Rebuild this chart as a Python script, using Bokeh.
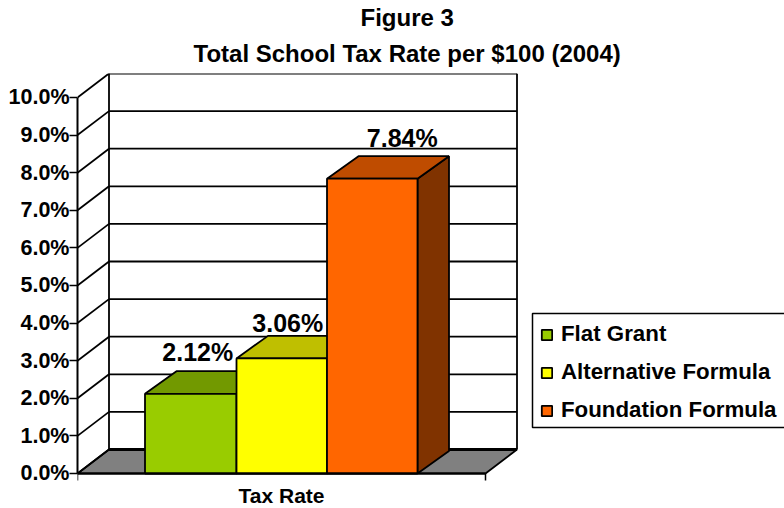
from bokeh.embed import file_html
from bokeh.resources import INLINE
from bokeh.plotting import figure
from bokeh.models import Range1d, LinearAxis, FixedTicker, Legend, LegendItem, Title
from bokeh.core.properties import value

# ---- data ----
categories = ["Flat Grant", "Alternative Formula", "Foundation Formula"]
rates = [2.12, 3.06, 7.84]
rate_labels = ["2.12%", "3.06%", "7.84%"]
y_ticks = [0, 1, 2, 3, 4, 5, 6, 7, 8, 9, 10]
y_tick_labels = ["0.0%", "1.0%", "2.0%", "3.0%", "4.0%", "5.0%", "6.0%", "7.0%", "8.0%", "9.0%", "10.0%"]
x_label = "Tax Rate"
title_line1 = "Figure 3"
title_line2 = "Total School Tax Rate per $100 (2004)"

# ---- style and layout ----
FONT = "Liberation Sans"
front_colors = ["#99CC00", "#FFFF00", "#FF6600"]
top_colors = ["#729900", "#BFBF00", "#BF4C00"]
side_colors = ["#567300", "#808000", "#803300"]
X0, X1 = 77, 485          # front floor edge
DX, DY = 31.5, 0.638      # oblique depth of the walls
BAR_DY = 0.6              # oblique depth of the bars
UNIT = 37.6               # pixels per percentage point
bar_edges = [144.5, 236, 326.5, 417]
label_dx = [7, 6, 30]
label_dy = [1.12, 0.95, 1.07]

p = figure(width=784, height=508, output_backend="svg", toolbar_location=None,
           x_range=Range1d(X0, 784), y_range=Range1d(-35 / UNIT, 10.638),
           x_axis_type=None, y_axis_type=None, tools="",
           min_border_left=77, min_border_right=0, min_border_top=73, min_border_bottom=0)
p.grid.visible = False
p.outline_line_color = None
p.background_fill_color = "white"

def title_style(t, off, standoff):
    t.text_font = FONT
    t.text_font_size = "24px"
    t.text_font_style = "bold"
    t.align = "left"
    t.offset = off
    t.text_color = "black"
    t.standoff = standoff

p.title.text = title_line1
title_style(p.title, 283, 0)
t2 = Title(text=title_line2)
title_style(t2, 116, 14)
p.add_layout(t2, "above")

# side wall, back wall and floor
LW = 1.8
p.patch([X0 + DX, X1 + DX, X1, X0], [DY, DY, 0, 0], fill_color="#808080", line_color="black", line_width=LW)
p.segment([X0 + DX], [DY], [X1 + DX], [DY], line_color="black", line_width=3)
back = [v + DY for v in y_ticks]
p.segment([X0] * len(y_ticks), y_ticks, [X0 + DX] * len(y_ticks), back, line_color="black", line_width=LW)
p.segment([X0 + DX] * len(y_ticks), back, [X1 + DX] * len(y_ticks), back, line_color="black", line_width=LW)
p.segment([X0 + DX, X1 + DX], [DY, DY], [X0 + DX, X1 + DX], [10 + DY, 10 + DY], line_color="black", line_width=LW)

# bars
items = []
for i, (name, v) in enumerate(zip(categories, rates)):
    l, r = bar_edges[i], bar_edges[i + 1]
    p.patch([r, r + DX, r + DX, r], [0, BAR_DY, v + BAR_DY, v], fill_color=side_colors[i], line_color="black", line_width=LW)
    p.patch([l, r, r + DX, l + DX], [v, v, v + BAR_DY, v + BAR_DY], fill_color=top_colors[i], line_color="black", line_width=LW)
    q = p.quad(left=[l], right=[r], bottom=[0], top=[v], fill_color=front_colors[i], line_color="black", line_width=LW)
    items.append(LegendItem(label=name, renderers=[q]))

for i, v in enumerate(rates):
    p.text([(bar_edges[i] + bar_edges[i + 1]) / 2 + label_dx[i]], [v + label_dy[i]], text=[rate_labels[i]],
           text_font=value(FONT), text_font_size="25px", text_font_style="bold",
           text_align="center", text_baseline="middle", text_color="black")

# axes
ya = LinearAxis(ticker=FixedTicker(ticks=y_ticks), bounds=(0, 10))
ya.major_label_overrides = {t: s for t, s in zip(y_ticks, y_tick_labels)}
xa = LinearAxis(ticker=FixedTicker(ticks=[X0, X1]), bounds=(X0, X1), fixed_location=0)
xa.major_label_text_color = None
for a in (ya, xa):
    a.axis_line_color = "black"
    a.axis_line_width = 2
    a.major_tick_line_color = "black"
    a.major_tick_line_width = 1.5
    a.major_tick_in = 0
    a.minor_tick_line_color = None
    a.major_label_text_font = FONT
    a.major_label_text_font_style = "bold"
ya.major_label_text_color = "black"
ya.major_label_text_font_size = "21.5px"
ya.major_tick_out = 8
ya.major_label_standoff = 0
xa.major_tick_out = 7
p.add_layout(ya, "left")
p.add_layout(xa, "below")
p.text([(X0 + X1) / 2], [-22.5 / UNIT], text=[x_label], text_font=value(FONT), text_font_size="21px",
       text_font_style="bold", text_color="black", text_align="center", text_baseline="middle")

# legend box (runs off the right-hand edge, as in the reference)
p.quad(left=[532], right=[800], bottom=[(473 - 427) / UNIT], top=[(473 - 313) / UNIT],
       fill_color="white", line_color="black", line_width=1.5)
leg = Legend(items=items, location=(540 - 77, 508 - 423), orientation="vertical",
             margin=0, padding=0, spacing=12, glyph_width=13, glyph_height=13, label_height=22,
             label_standoff=8, label_text_font=FONT, label_text_font_size="22.3px",
             label_text_font_style="bold", label_text_color="black",
             border_line_color=None, background_fill_alpha=0)
p.add_layout(leg, "center")

open("out.html", "w").write(file_html(p, INLINE))
